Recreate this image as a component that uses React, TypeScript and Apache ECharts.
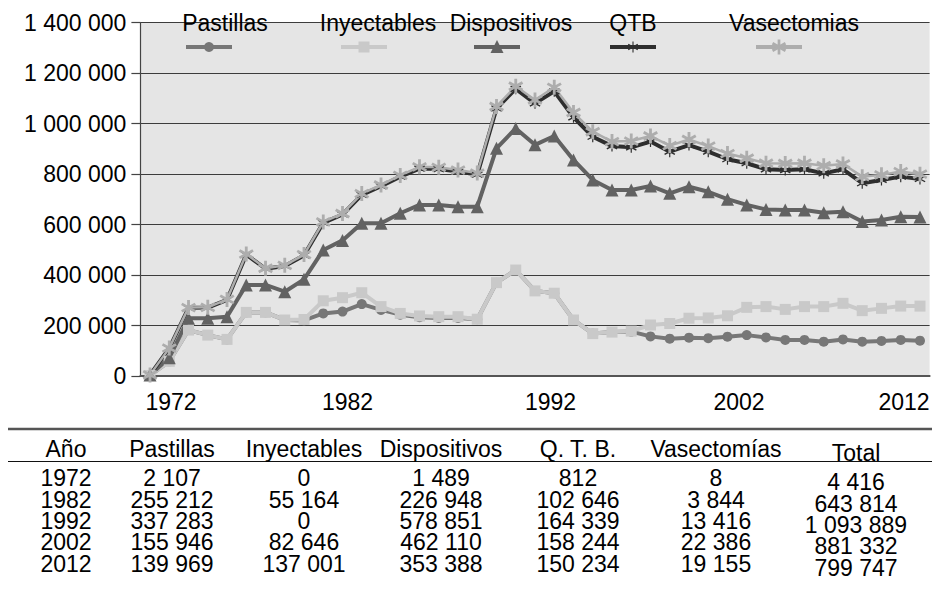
import React, { useEffect, useRef } from "react";
import * as echarts from "echarts";

const years = [
  "1972", "1973", "1974", "1975", "1976", "1977", "1978", "1979", "1980", "1981",
  "1982", "1983", "1984", "1985", "1986", "1987", "1988", "1989", "1990", "1991",
  "1992", "1993", "1994", "1995", "1996", "1997", "1998", "1999", "2000", "2001",
  "2002", "2003", "2004", "2005", "2006", "2007", "2008", "2009", "2010", "2011",
  "2012",
];

const pastillas = [
  2107, 58000, 182000, 162000, 145000, 252000, 252000, 222000, 220000, 248000,
  255212, 285000, 262000, 243000, 233000, 230000, 230000, 225000, 370000, 420000,
  337283, 328000, 222000, 168000, 174000, 176000, 157000, 148000, 152000, 150000,
  155946, 162000, 153000, 143000, 143000, 136000, 145000, 136000, 139000, 143000,
  139969,
];

const inyectables = [
  0, 0, 0, 0, 0, 0, 0, 0, 4000, 50000,
  55164, 45000, 13000, 5000, 5000, 5000, 5000, 0, 0, 0,
  0, 0, 0, 0, 0, 2000, 45000, 60000, 77000, 80000,
  82646, 110000, 122000, 121000, 132000, 139000, 143000, 123000, 129000, 134000,
  137001,
];

const dispositivos = [
  1489, 14000, 47000, 67000, 90000, 109000, 109000, 112000, 159000, 201000,
  226948, 275000, 330000, 397000, 440000, 443000, 436000, 446000, 532000, 561000,
  578851, 623000, 634000, 609000, 563000, 559000, 551000, 516000, 521000, 500000,
  462110, 406000, 385000, 394000, 383000, 372000, 363000, 353000, 350000, 354000,
  353388,
];

const qtb = [
  812, 38000, 41000, 42000, 67000, 120000, 64000, 102000, 95000, 108000,
  102646, 113000, 147000, 145000, 144000, 142000, 139000, 127000, 158000, 157000,
  164339, 177000, 169000, 171000, 174000, 169000, 176000, 165000, 165000, 159000,
  158244, 165000, 159000, 158000, 161000, 156000, 168000, 152000, 159000, 159000,
  150234,
];

const vasectomias = [
  8, 500, 1000, 1000, 1500, 2000, 2000, 2500, 3000, 3500,
  3844, 5000, 5000, 5000, 7000, 7000, 6000, 6000, 8000, 10000,
  13416, 16000, 19000, 20000, 18000, 25000, 22000, 24000, 22000, 22000,
  22386, 20000, 24000, 26000, 24000, 30000, 21000, 26000, 20000, 20000,
  19155,
];

const seriesNames = ["Pastillas", "Inyectables", "Dispositivos", "QTB", "Vasectomias"];
const tableYears = ["1972", "1982", "1992", "2002", "2012"];
const tableHeaders = ["Año", "Pastillas", "Inyectables", "Dispositivos", "Q. T. B.", "Vasectomías", "Total"];

const FONT = "'Liberation Sans', Arial, Helvetica, sans-serif";

const ASTERISK_THICK =
  "M8.2 0 H11.8 V20 H8.2 Z M0.44 6.56 L2.24 3.44 L19.56 13.44 L17.76 16.56 Z M0.44 13.44 L17.76 3.44 L19.56 6.56 L2.24 16.56 Z";
const ASTERISK_THIN =
  "M9 0 H11 V20 H9 Z M0.74 6.04 L1.94 3.96 L19.26 13.96 L18.06 16.04 Z M0.74 13.96 L18.06 3.96 L19.26 6.04 L1.94 16.04 Z";

let registered = false;
function registerShapes() {
  if (registered) return;
  registered = true;
  echarts.graphic.registerShape("astThick", echarts.graphic.extendPath(ASTERISK_THICK, {}));
  echarts.graphic.registerShape("astThin", echarts.graphic.extendPath(ASTERISK_THIN, {}));
}

function fmt(n: number): string {
  return String(Math.round(n)).replace(/\B(?=(\d{3})+(?!\d))/g, " ");
}

export default function App() {
  const ref = useRef<HTMLDivElement>(null);

  useEffect(() => {
    if (!ref.current) return;
    registerShapes();
    const chart = echarts.init(ref.current, undefined, { renderer: "svg" });

    const colors = ["#777777", "#c9c9c9", "#626262", "#2e2e2e", "#adadad"];
    const seriesData = [pastillas, inyectables, dispositivos, qtb, vasectomias];
    const symbols = [
      "circle",
      "rect",
      "triangle",
      "path://" + ASTERISK_THIN,
      "path://" + ASTERISK_THICK,
    ];
    const symbolSizes = [10, 11, 13, 11, 15];
    const lineWidths = [4, 4, 4, 4, 2.5];

    const series = seriesNames.map((name, k) => ({
      type: "line",
      name,
      data: seriesData[k],
      stack: "total",
      symbol: symbols[k],
      symbolSize: symbolSizes[k],
      showSymbol: true,
      showAllSymbol: true,
      lineStyle: { color: colors[k], width: lineWidths[k] },
      itemStyle: { color: colors[k], borderWidth: 0 },
      emphasis: { disabled: true },
    }));

    // Legend (drawn as graphic: label above, sample below)
    const legendTextX = [225, 378, 511, 633, 794];
    const legendMarkX = [209, 364, 497, 633, 779];
    const legendTextY = 23;
    const legendMarkY = 47;
    const legendEls: any[] = [];
    seriesNames.forEach((name, k) => {
      legendEls.push({
        type: "text",
        x: legendTextX[k],
        y: legendTextY,
        z: 100,
        style: {
          text: name,
          fontSize: 23,
          lineHeight: 20,
          fontFamily: FONT,
          fill: "#000",
          align: "center",
          verticalAlign: "middle",
        },
      });
      const mx = legendMarkX[k];
      legendEls.push({
        type: "line",
        z: 100,
        shape: { x1: mx - 23, y1: legendMarkY, x2: mx + 23, y2: legendMarkY },
        style: { stroke: colors[k], lineWidth: 4 },
      });
      if (k === 0) {
        legendEls.push({ type: "circle", z: 101, shape: { cx: mx, cy: legendMarkY, r: 5 }, style: { fill: colors[k] } });
      } else if (k === 1) {
        legendEls.push({ type: "rect", z: 101, shape: { x: mx - 5.5, y: legendMarkY - 5.5, width: 11, height: 11 }, style: { fill: colors[k] } });
      } else if (k === 2) {
        legendEls.push({
          type: "polygon",
          z: 101,
          shape: { points: [[mx, legendMarkY - 7], [mx + 6.5, legendMarkY + 6], [mx - 6.5, legendMarkY + 6]] },
          style: { fill: colors[k] },
        });
      } else if (k === 3) {
        const s = 11 / 20;
        legendEls.push({ type: "astThin", z: 101, x: mx - 10 * s, y: legendMarkY - 10 * s, scaleX: s, scaleY: s, style: { fill: colors[k] } });
      } else {
        const s = 15 / 20;
        legendEls.push({ type: "astThick", z: 101, x: mx - 10 * s, y: legendMarkY - 10 * s, scaleX: s, scaleY: s, style: { fill: colors[k] } });
      }
    });

    // Table
    const colX = [66, 172, 304, 441, 578, 716, 856];
    const headerY = 449;
    const rowY = [478, 500, 521, 542, 564];
    const totalShift = 4;
    const tableEls: any[] = [];
    tableEls.push({
      type: "line",
      shape: { x1: 8, y1: 429, x2: 932, y2: 429 },
      style: { stroke: "#555", lineWidth: 2.5 },
    });
    tableEls.push({
      type: "line",
      shape: { x1: 8, y1: 461.5, x2: 932, y2: 461.5 },
      style: { stroke: "#111", lineWidth: 1.2 },
    });
    const txt = (text: string, x: number, y: number) => ({
      type: "text",
      x,
      y,
      style: {
        text,
        fontSize: 23,
        lineHeight: 18,
        fontFamily: FONT,
        fill: "#000",
        align: "center",
        verticalAlign: "middle",
      },
    });
    tableHeaders.forEach((h, c) => {
      tableEls.push(txt(h, colX[c], headerY + (c === 6 ? totalShift : 0)));
    });
    tableYears.forEach((yr, r) => {
      const idx = years.indexOf(yr);
      const vals = [pastillas[idx], inyectables[idx], dispositivos[idx], qtb[idx], vasectomias[idx]];
      const total = vals.reduce((a, b) => a + b, 0);
      const cells = [yr, ...vals.map(fmt), fmt(total)];
      cells.forEach((cell, c) => {
        tableEls.push(txt(cell, colX[c], rowY[r] + (c === 6 ? totalShift : 0)));
      });
    });

    const labelShift: Record<string, string> = {
      "1972": "a",
      "1982": "b",
      "1992": "c",
      "2002": "d",
      "2012": "e",
    };
    const richBase = { fontSize: 23, fontFamily: FONT, color: "#000" };

    const option = {
      animation: false,
      backgroundColor: "#ffffff",
      grid: {
        left: 140.4,
        right: 3.4,
        top: 22.7,
        bottom: 611 - 376,
        show: true,
        backgroundColor: "#e5e5e5",
        borderWidth: 0,
      },
      xAxis: {
        type: "category",
        data: years,
        boundaryGap: true,
        axisLine: { show: true, lineStyle: { color: "#555", width: 2 } },
        axisTick: { show: false },
        splitLine: { show: false },
        axisLabel: {
          interval: 9,
          margin: 14,
          fontSize: 23,
          fontFamily: FONT,
          color: "#000",
          formatter: (v: string) => `{${labelShift[v] || "a"}|${v}}`,
          rich: {
            a: { ...richBase, padding: [0, 0, 0, 42] },
            b: { ...richBase, padding: [0, 0, 0, 10] },
            c: { ...richBase, padding: [0, 0, 0, 31] },
            d: { ...richBase, padding: [0, 0, 0, 23] },
            e: { ...richBase, padding: [0, 32, 0, 0] },
          },
        },
      },
      yAxis: {
        type: "value",
        min: 0,
        max: 1400000,
        interval: 200000,
        axisLine: { show: true, lineStyle: { color: "#444", width: 1.2 } },
        axisTick: { show: true, length: 9, lineStyle: { color: "#444", width: 1.2 } },
        splitLine: { show: true, lineStyle: { color: "#3c3c3c", width: 1.2 } },
        axisLabel: {
          margin: 14,
          fontSize: 23,
          fontFamily: FONT,
          color: "#000",
          formatter: (v: number) => fmt(v),
        },
      },
      series,
      graphic: [...legendEls, ...tableEls],
    };

    chart.setOption(option as any);
    return () => chart.dispose();
  }, []);

  return (
    <div
      ref={ref}
      style={{ position: "fixed", left: 0, top: 0, width: 933, height: 611, background: "#fff" }}
    />
  );
}
